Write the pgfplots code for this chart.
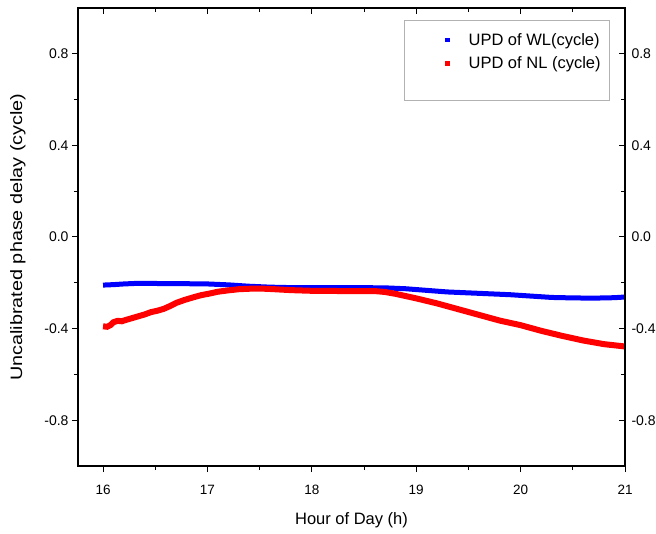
\documentclass[border=0pt]{standalone}
\usepackage{pgfplots}
\pgfplotsset{compat=1.18}
\usepackage{graphicx}
\usepackage{fontspec}
\setmainfont{Liberation Sans}
\definecolor{updblue}{RGB}{0,0,255}
\definecolor{updred}{RGB}{255,0,0}
\begin{document}
\begin{tikzpicture}
\useasboundingbox (-78pt,-67pt) rectangle (578pt,466pt);
\pgfplotsset{
  common/.style={
    scale only axis, width=547pt, height=458pt,
    at={(0,0)}, anchor=south west,
    xmin=15.76, xmax=21, ymin=-1, ymax=1,
    xtick={16,17,18,19,20,21},
    ytick={-0.8,-0.4,0,0.4,0.8},
    minor x tick num=1, minor y tick num=1,
    major tick length=6pt, minor tick length=4pt,
    axis line style={black, line width=1.1pt},
    every tick/.style={black, line width=1pt},
    /pgf/number format/assume math mode=true,
    yticklabel style={font=\fontsize{14}{17}\selectfont, /pgf/number format/fixed, /pgf/number format/fixed zerofill, /pgf/number format/precision=1},
    xticklabel style={font=\fontsize{13.5}{16}\selectfont, yshift=-10pt, /pgf/number format/fixed, /pgf/number format/precision=0},
  }
}
\begin{axis}[common,
  tick align=outside,
  xtick pos=left, ytick pos=left,
  xlabel={Hour of Day (h)},
  ylabel={\scalebox{1.2}[1]{Uncalibrated phase delay (cycle)}},
  xlabel style={font=\fontsize{16.5}{19}\selectfont, at={(axis description cs:0.5,-0.118)}, anchor=center},
  ylabel style={font=\fontsize{16.5}{19}\selectfont, at={(axis description cs:-0.11,0.5)}, anchor=center},
  legend style={at={(0.9726,0.974)}, anchor=north east, draw=gray!60, line width=0.8pt,
    font=\fontsize{16.5}{19}\selectfont, inner xsep=7pt, inner ysep=11pt,
    row sep=6pt},
  legend cell align=left,
]
\addplot[updblue, line width=5pt, forget plot] coordinates {
(16.00,-0.210) (16.10,-0.208) (16.20,-0.205) (16.30,-0.203) (16.50,-0.203)
(16.80,-0.204) (17.00,-0.205) (17.20,-0.209) (17.40,-0.215) (17.60,-0.219)
(17.80,-0.221) (18.00,-0.221) (18.40,-0.221) (18.70,-0.222) (18.90,-0.226)
(19.10,-0.233) (19.30,-0.240) (19.50,-0.244) (19.70,-0.248) (19.90,-0.252)
(20.10,-0.258) (20.30,-0.264) (20.50,-0.266) (20.70,-0.267) (20.90,-0.265)
(21.00,-0.262)
};
\addplot[updred, line width=6pt, forget plot] coordinates {
(16.00,-0.390) (16.04,-0.392) (16.07,-0.385) (16.10,-0.372) (16.14,-0.366)
(16.18,-0.368) (16.22,-0.362) (16.28,-0.354) (16.34,-0.346) (16.40,-0.338)
(16.46,-0.328) (16.52,-0.322) (16.58,-0.314) (16.64,-0.302) (16.70,-0.288)
(16.78,-0.275) (16.86,-0.264) (16.94,-0.254) (17.02,-0.247) (17.10,-0.239)
(17.20,-0.233) (17.30,-0.228) (17.40,-0.226) (17.50,-0.225) (17.60,-0.227)
(17.80,-0.232) (18.00,-0.235) (18.30,-0.236) (18.60,-0.236) (18.70,-0.240)
(18.80,-0.248) (18.90,-0.258) (19.00,-0.268) (19.20,-0.290) (19.40,-0.315)
(19.60,-0.340) (19.80,-0.365) (20.00,-0.385) (20.20,-0.410) (20.40,-0.432)
(20.60,-0.452) (20.80,-0.468) (21.00,-0.478)
};
\addlegendimage{updblue, legend image code/.code={\path (-35pt,0pt) (19pt,0pt); \fill (-1.8pt,-1.8pt) rectangle (1.8pt,1.8pt);}}
\addlegendentry{UPD of WL(cycle)}
\addlegendimage{updred, legend image code/.code={\path (-35pt,0pt) (19pt,0pt); \fill (-1.8pt,-1.8pt) rectangle (1.8pt,1.8pt);}}
\addlegendentry{UPD of NL (cycle)}
\addlegendimage{empty legend}
\addlegendentry{\rule{0pt}{6pt}}
\end{axis}
\begin{axis}[common,
  tick align=inside,
  xtick pos=right, ytick pos=right,
  yticklabel pos=right,
  yticklabel style={xshift=3pt},
  xticklabels={},
]
\end{axis}
\end{tikzpicture}
\end{document}
